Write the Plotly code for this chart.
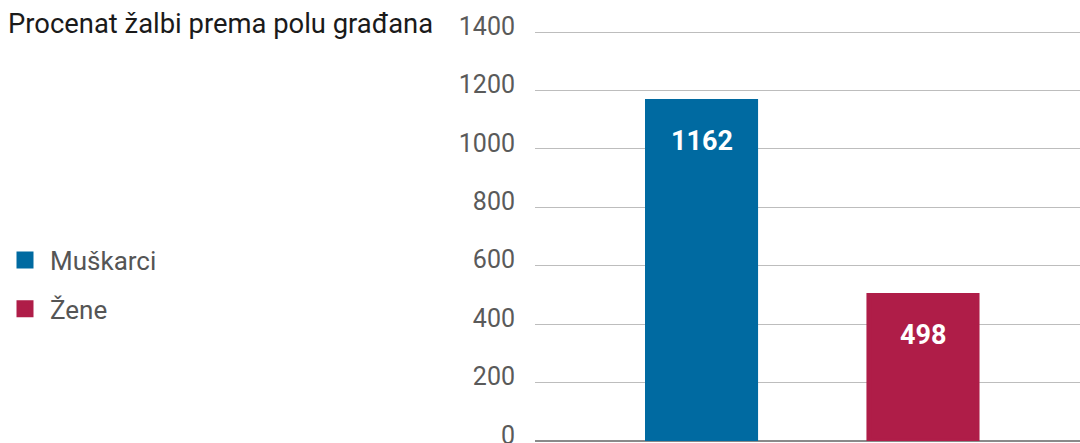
import plotly.graph_objects as go

categories = ["Muškarci", "Žene"]
values = [1162, 498]
colors = ["#006aa1", "#af1d48"]
y_ticks = [0, 200, 400, 600, 800, 1000, 1200, 1400]
title = "Procenat žalbi prema polu građana"

W, H = 1080, 443
TOP, BOT = 29, 2
PLOT_H = H - TOP - BOT
FONT = "Roboto, Liberation Sans, sans-serif"
fig = go.Figure()
for i, (c, v, col) in enumerate(zip(categories, values, colors)):
    fig.add_trace(go.Bar(
        x=[c], y=[v], name=c, width=0.488,
        marker=dict(color=col, line=dict(color=col, width=5)),
        legendgroup=c, hoverinfo="skip",
    ))
    fig.add_annotation(
        x=c, y=v, text=f"<b>{v}</b>", showarrow=False,
        yanchor="middle", yshift=-39,
        font=dict(family=FONT, size=27, color="white"),
    )

fig.update_layout(
    width=W, height=H,
    margin=dict(l=0, r=0, t=TOP, b=BOT, autoexpand=False),
    plot_bgcolor="white", paper_bgcolor="white",
    barmode="overlay",
    title=dict(text=title, x=8 / W, xanchor="left", xref="container",
               y=1 - 23 / H, yanchor="middle", yref="container",
               font=dict(family=FONT, size=27.4, color="#1a1a1a")),
    legend=dict(x=0, xanchor="left", y=(441 - 284.5) / PLOT_H, yanchor="middle",
                font=dict(family=FONT, size=26, color="#555555"),
                itemwidth=40,
                traceorder="grouped", tracegroupgap=12,
                bgcolor="rgba(0,0,0,0)"),
    showlegend=True,
)
fig.update_xaxes(domain=[535 / W, 1], range=[-0.752, 1.709], automargin=False,
                 showticklabels=False, showgrid=False, zeroline=False,
                 showline=False, categoryorder="array", categoryarray=categories)
fig.update_yaxes(range=[0, 1400 * PLOT_H / 409], tickvals=y_ticks, showgrid=True,
                 automargin=False, ticklabeloverflow="allow",
                 gridcolor="#bdbdbd", gridwidth=1,
                 zeroline=True, zerolinecolor="#8a8a8a", zerolinewidth=1.5,
                 ticklabelstandoff=19, ticklabelshift=-6,
                 tickfont=dict(family=FONT, size=25, color="#5a5a5a"))
fig.write_html("out.html", config={"displayModeBar": False},
               post_script="document.body.style.margin='0';")
